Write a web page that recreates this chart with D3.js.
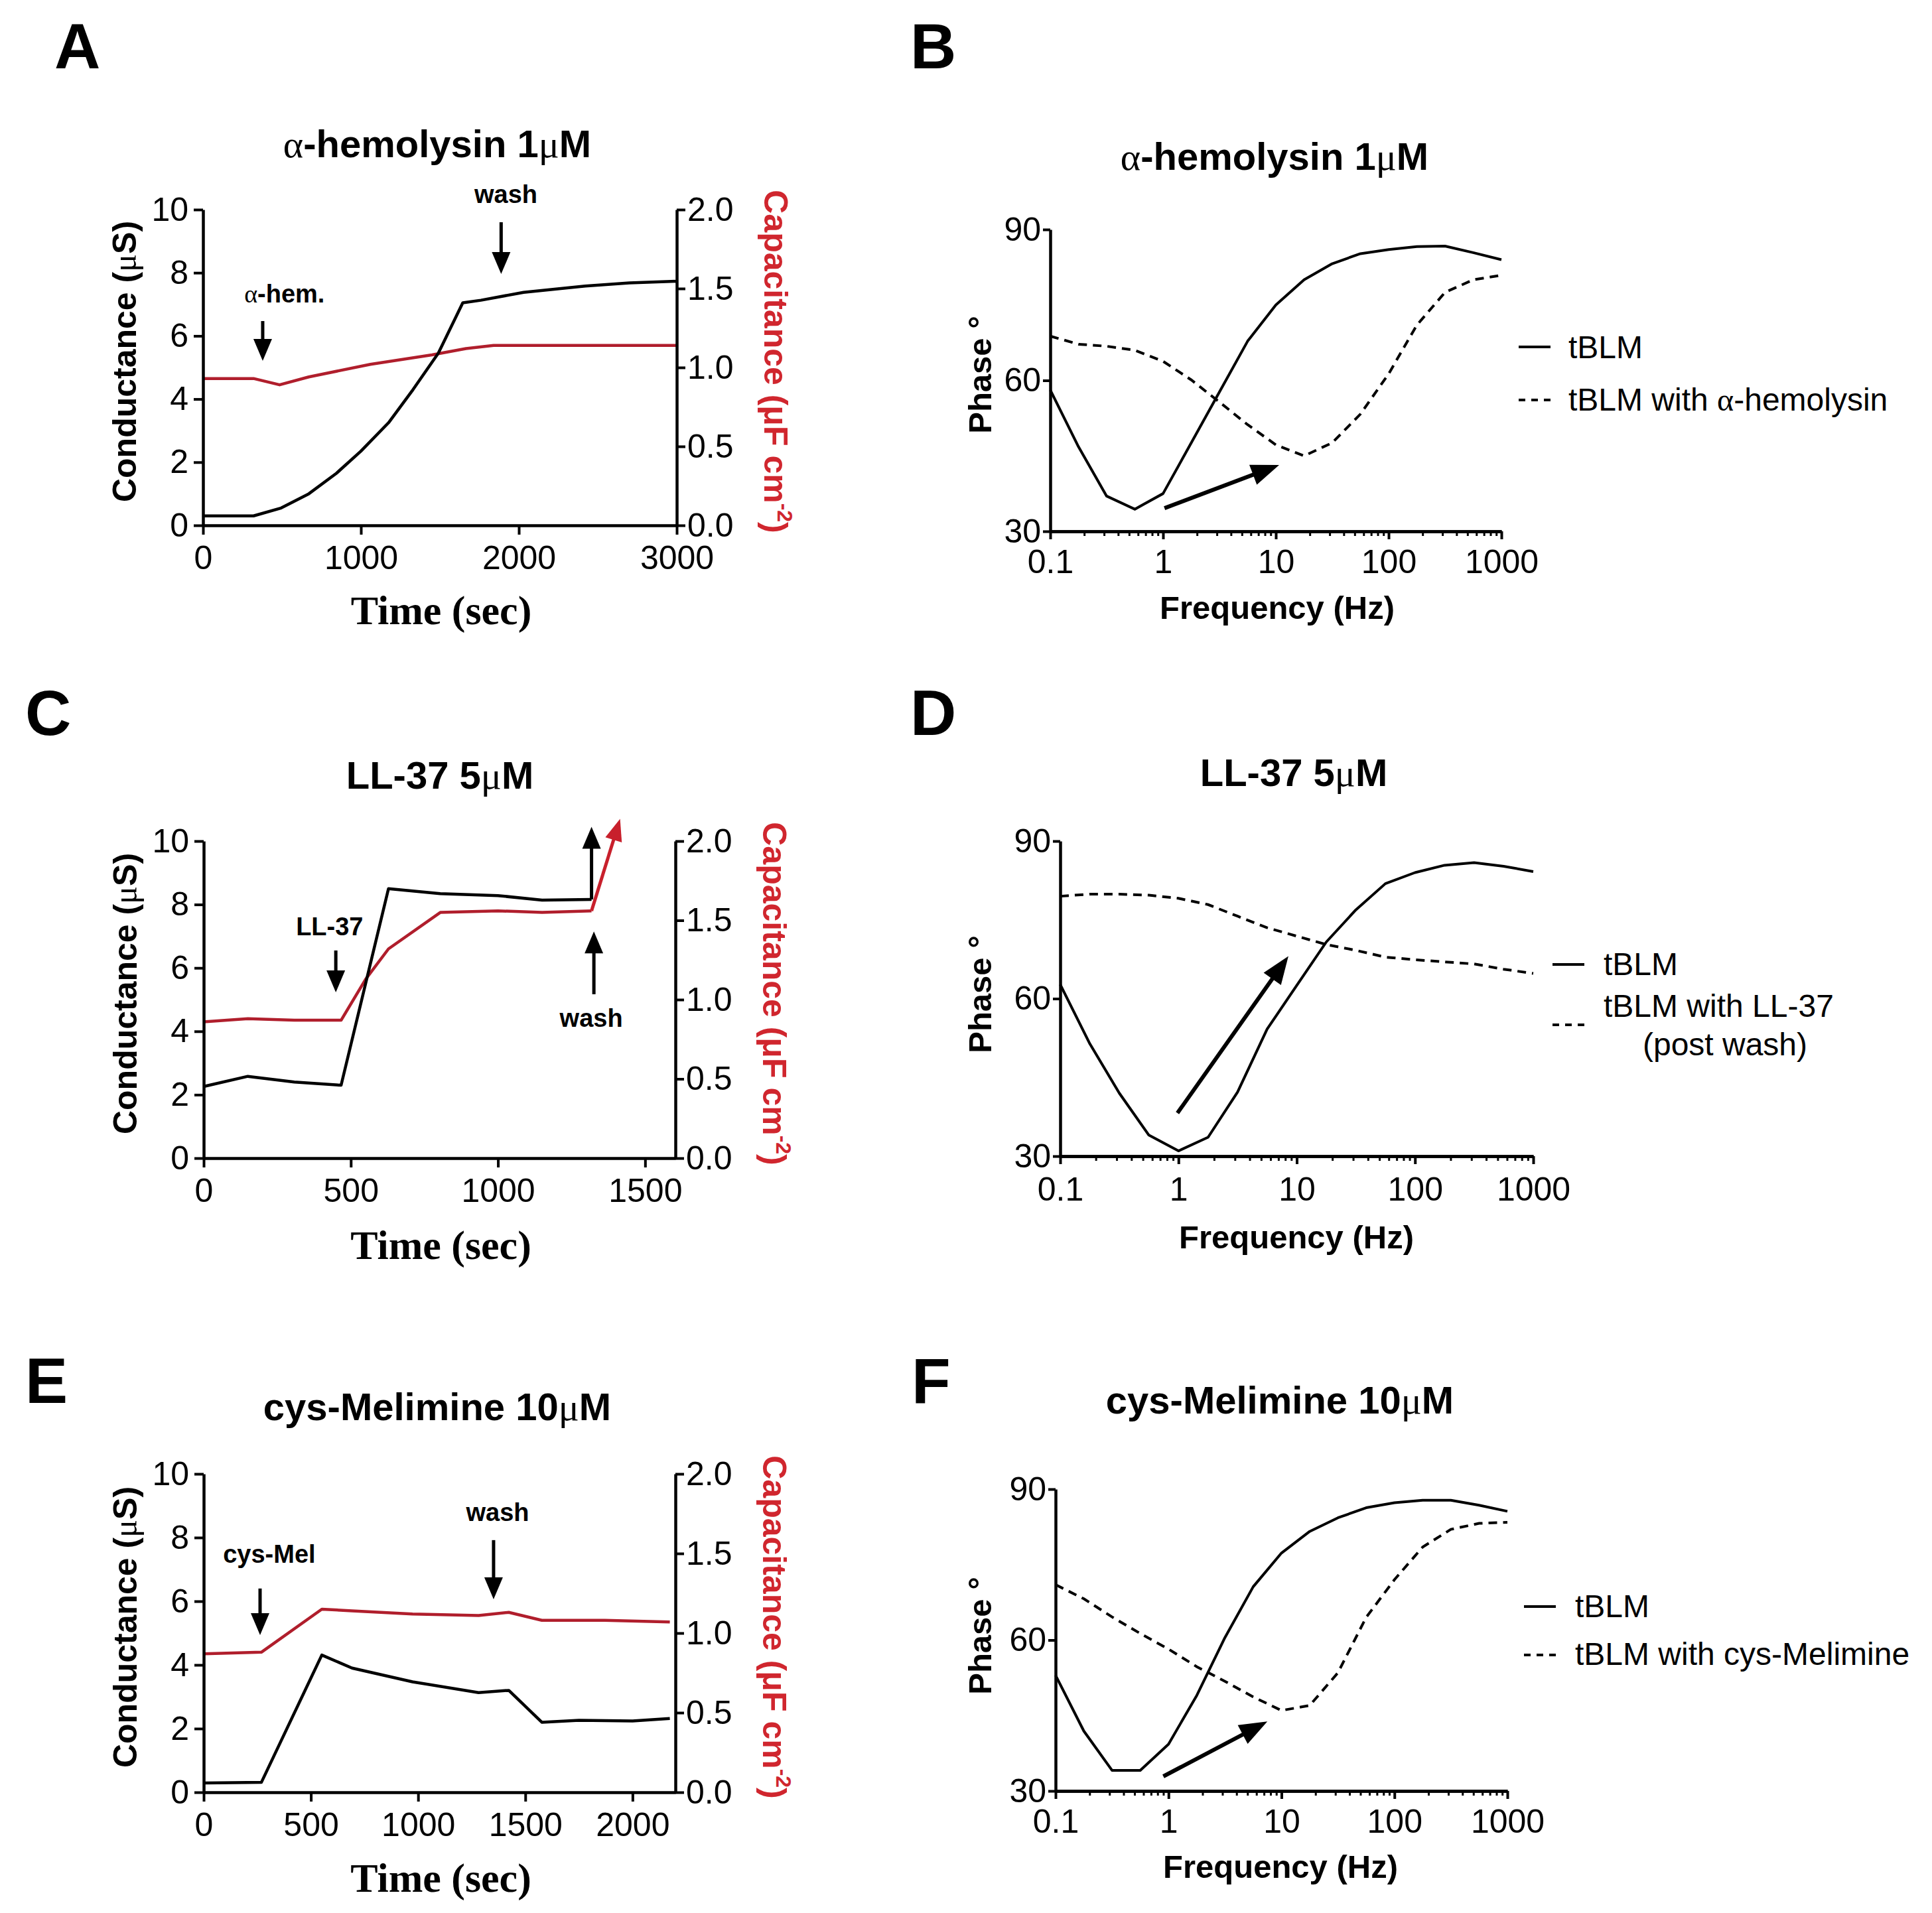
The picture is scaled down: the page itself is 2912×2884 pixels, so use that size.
<!DOCTYPE html>
<html><head><meta charset="utf-8">
<script src="https://cdn.jsdelivr.net/npm/d3@7"></script>
<style>body{margin:0;background:#fff}</style>
</head><body>
<svg id="c" width="2912" height="2884"></svg>
<script>
// ---------------- DATA ----------------
// Panel A : alpha-hemolysin 1uM (time course)
const timeA_G = [0, 320, 495, 670, 845, 1000, 1175, 1330, 1490, 1645, 1760, 2030, 2420, 2700, 3000];
const condA   = [0.3, 0.3, 0.55, 1.0, 1.65, 2.35, 3.25, 4.3, 5.45, 7.05, 7.13, 7.38, 7.58, 7.68, 7.73];
const timeA_C = [0, 320, 485, 670, 1060, 1450, 1665, 1840, 3000];
const capA    = [0.93, 0.93, 0.89, 0.94, 1.02, 1.08, 1.12, 1.14, 1.14];
const timeTicksA = [0, 1000, 2000, 3000];

// Panel C : LL-37 5uM (time course)
const timeC_G = [0, 150, 308, 467, 628, 804, 1000, 1150, 1318];
const condC   = [2.26, 2.58, 2.4, 2.3, 8.5, 8.34, 8.28, 8.14, 8.16];
const timeC_C = [0, 150, 308, 467, 551, 628, 804, 1000, 1150, 1318];
const capC    = [0.86, 0.88, 0.87, 0.87, 1.13, 1.32, 1.55, 1.56, 1.55, 1.56];
const timeTicksC = [0, 500, 1000, 1500];

// Panel E : cys-Melimine 10uM (time course)
const timeE_G = [0, 269, 551, 692, 974, 1282, 1423, 1577, 1750, 2000, 2174];
const condE   = [0.29, 0.31, 4.31, 3.9, 3.47, 3.13, 3.2, 2.2, 2.26, 2.24, 2.32];
const timeE_C = [0, 269, 551, 692, 974, 1282, 1423, 1577, 1870, 2174];
const capE    = [0.87, 0.88, 1.15, 1.14, 1.12, 1.11, 1.13, 1.08, 1.08, 1.07];
const timeTicksE = [0, 500, 1000, 1500, 2000];

const condTicks = [0, 2, 4, 6, 8, 10];
const capTicks  = [0, 0.5, 1.0, 1.5, 2.0];

// Bode phase panels
const freq = [0.1, 0.178, 0.316, 0.562, 1, 1.78, 3.16, 5.62, 10, 17.8, 31.6, 56.2, 100, 178, 316, 562, 1000];
const phaseB_tBLM = [58.1, 46.8, 37, 34.4, 37.5, 47.6, 57.7, 67.8, 75, 80, 83.2, 85.2, 86, 86.6, 86.7, 85.4, 84];
const phaseB_with = [68.8, 67.2, 66.8, 66, 63.8, 60.1, 55.7, 51.2, 47.2, 45, 47.6, 53.3, 61.3, 71, 77.5, 80, 80.9];
const phaseD_tBLM = [62.7, 51.4, 42, 34, 31, 33.6, 42.2, 54.2, 62.5, 70.8, 76.9, 81.9, 84, 85.4, 85.9, 85.2, 84.2];
const phaseD_with = [79.5, 79.9, 79.9, 79.7, 79.1, 77.9, 75.7, 73.5, 71.9, 70.3, 69.2, 67.9, 67.4, 67, 66.6, 65.6, 64.8];
const phaseF_tBLM = [53, 41.9, 34.1, 34.1, 39.3, 49, 60.5, 70.6, 77.3, 81.6, 84.3, 86.3, 87.3, 87.8, 87.8, 86.8, 85.6];
const phaseF_with = [71, 68.2, 64.6, 61.3, 58.2, 54.7, 51.8, 48.7, 46, 47, 53.5, 64.5, 72, 78.5, 82, 83.2, 83.4];
const freqTicks = [0.1, 1, 10, 100, 1000];
const freqTickLabels = ['0.1', '1', '10', '100', '1000'];
const phaseTicks = [30, 60, 90];

const titles = ['α-hemolysin 1μM', 'α-hemolysin 1μM', 'LL-37 5μM', 'LL-37 5μM', 'cys-Melimine 10μM', 'cys-Melimine 10μM'];
const panelLetters = ['A', 'B', 'C', 'D', 'E', 'F'];
const legendB = ['tBLM', 'tBLM with α-hemolysin'];
const legendD = ['tBLM', 'tBLM with LL-37', '(post wash)'];
const legendF = ['tBLM', 'tBLM with cys-Melimine'];

// ---------------- DRAWING ----------------
const SANS = '"Liberation Sans", Arial, Helvetica, sans-serif';
const SERIF = '"Liberation Serif", "Times New Roman", serif';
const RED = '#b01e2c', RED_TXT = '#d0262e';
const svg = d3.select('#c');
svg.append('rect').attr('width', 2912).attr('height', 2884).attr('fill', '#fff');

// Greek letters (α, μ) in a serif, non-bold face like the original's Symbol font
function rich(sel, str) {
  str.split(/([αμ])/).forEach(part => {
    if (!part) return;
    const t = sel.append('tspan').text(part);
    if (part === 'α' || part === 'μ') t.attr('font-family', SERIF).attr('font-weight', 'normal');
  });
  return sel;
}

function styleAxis(g, fs) {
  g.selectAll('path.domain').attr('stroke', '#000').attr('stroke-width', 4.5);
  g.selectAll('.tick line').attr('stroke', '#000').attr('stroke-width', 4);
  g.selectAll('.tick text').attr('fill', '#000').attr('font-family', SANS).attr('font-size', fs || 50);
}

function arrow(g, x0, y0, x1, y1, opt) {
  const o = Object.assign({w: 28, len: 33, sw: 5, color: '#000'}, opt || {});
  const dx = x1 - x0, dy = y1 - y0, L = Math.hypot(dx, dy), ux = dx / L, uy = dy / L;
  const bx = x1 - ux * o.len, by = y1 - uy * o.len;
  g.append('line').attr('x1', x0).attr('y1', y0).attr('x2', bx + ux * 3).attr('y2', by + uy * 3)
    .attr('stroke', o.color).attr('stroke-width', o.sw);
  g.append('path').attr('d', `M${x1},${y1}L${bx - uy * o.w / 2},${by + ux * o.w / 2}L${bx + uy * o.w / 2},${by - ux * o.w / 2}Z`)
    .attr('fill', o.color);
}

function letter(txt, x, y) {
  svg.append('text').attr('x', x).attr('y', y).attr('font-family', SANS).attr('font-weight', 'bold')
    .attr('font-size', 96).attr('fill', '#000').text(txt);
}
function title(txt, x, y) {
  rich(svg.append('text').attr('x', x).attr('y', y).attr('text-anchor', 'middle').attr('font-family', SANS)
    .attr('font-weight', 'bold').attr('font-size', 58).attr('fill', '#000'), txt);
}

function timePanel(p) {
  const g = svg.append('g');
  const x = d3.scaleLinear().domain([0, p.xMax]).range([p.left, p.right]);
  const yL = d3.scaleLinear().domain([0, 10]).range([p.bottom, p.top]);
  const yR = d3.scaleLinear().domain([0, 2]).range([p.bottom, p.top]);

  const line = (xs, ys, sy) => d3.line().x((d, i) => x(xs[i])).y((d, i) => sy(ys[i]))(xs);
  g.append('path').attr('d', line(p.tC, p.cap, yR)).attr('fill', 'none').attr('stroke', RED)
    .attr('stroke-width', 4.5).attr('stroke-linejoin', 'round');
  g.append('path').attr('d', line(p.tG, p.cond, yL)).attr('fill', 'none').attr('stroke', '#000')
    .attr('stroke-width', 4.5).attr('stroke-linejoin', 'round');

  const ax = g.append('g').attr('transform', `translate(0,${p.bottom})`)
    .call(d3.axisBottom(x).tickValues(p.xTicks).tickSize(14).tickSizeOuter(0).tickPadding(16).tickFormat(d3.format('d')));
  styleAxis(ax);
  const ayl = g.append('g').attr('transform', `translate(${p.left},0)`)
    .call(d3.axisLeft(yL).tickValues(condTicks).tickSize(14).tickSizeOuter(0).tickPadding(8).tickFormat(d3.format('d')));
  styleAxis(ayl);
  const ayr = g.append('g').attr('transform', `translate(${p.right},0)`)
    .call(d3.axisRight(yR).tickValues(capTicks).tickSize(13).tickSizeOuter(0).tickPadding(3).tickFormat(d3.format('.1f')));
  styleAxis(ayr);

  g.append('text').attr('transform', `translate(${(p.left + p.right) / 2 + 2},${p.xLabelY})`).attr('text-anchor', 'middle')
    .attr('font-family', SERIF).attr('font-weight', 'bold').attr('font-size', 62).attr('fill', '#000').text('Time (sec)');
  rich(g.append('text').attr('transform', `translate(${p.left - 101},${p.midY}) rotate(-90)`).attr('text-anchor', 'middle')
    .attr('font-family', SANS).attr('font-weight', 'bold').attr('font-size', 50).attr('fill', '#000'), 'Conductance (μS)');
  const rt = g.append('text').attr('transform', `translate(${p.right + 132},${p.midY}) rotate(90)`).attr('text-anchor', 'middle')
    .attr('font-family', SANS).attr('font-weight', 'bold').attr('font-size', 50).attr('fill', RED_TXT);
  rt.append('tspan').text('Capacitance (μF cm');
  rt.append('tspan').attr('font-size', 32).attr('dy', -20).text('-2');
  rt.append('tspan').attr('dy', 20).text(')');

  p.notes.forEach(n => {
    if (n.label) {
      rich(g.append('text').attr('x', x(n.lx)).attr('y', yL(n.ly)).attr('text-anchor', 'middle')
        .attr('font-family', SANS).attr('font-weight', 'bold').attr('font-size', 38).attr('fill', '#000'), n.label);
    }
    const sy = n.axis === 'R' ? yR : yL;
    arrow(g, x(n.x0), sy(n.y0), x(n.x1), sy(n.y1), n.opt);
  });
}

function phasePanel(p) {
  const g = svg.append('g');
  const x = d3.scaleLog().domain([0.1, 1000]).range([p.left, p.right]);
  const y = d3.scaleLinear().domain([30, 90]).range([p.bottom, p.top]);

  const line = ys => d3.line().x((d, i) => x(freq[i])).y((d, i) => y(ys[i]))(freq);
  g.append('path').attr('d', line(p.solid)).attr('fill', 'none').attr('stroke', '#000').attr('stroke-width', 4)
    .attr('stroke-linejoin', 'round');
  g.append('path').attr('d', line(p.dashed)).attr('fill', 'none').attr('stroke', '#000').attr('stroke-width', 4)
    .attr('stroke-dasharray', '13,9');

  const minor = x.ticks().filter(v => Math.abs(Math.log10(v) - Math.round(Math.log10(v))) > 1e-6);
  const am = g.append('g').attr('transform', `translate(0,${p.bottom})`)
    .call(d3.axisBottom(x).tickValues(minor).tickSize(7).tickSizeOuter(0).tickFormat(''));
  styleAxis(am);
  am.selectAll('.tick line').attr('stroke-width', 3);
  const ax = g.append('g').attr('transform', `translate(0,${p.bottom})`)
    .call(d3.axisBottom(x).tickValues(freqTicks).tickSize(12).tickSizeOuter(0).tickPadding(p.xPad)
      .tickFormat((d, i) => freqTickLabels[i]));
  styleAxis(ax);
  const ay = g.append('g').attr('transform', `translate(${p.left},0)`)
    .call(d3.axisLeft(y).tickValues(phaseTicks).tickSize(11).tickSizeOuter(0).tickPadding(3).tickFormat(d3.format('d')));
  styleAxis(ay);

  g.append('text').attr('x', p.xLabelX).attr('y', p.xLabelY).attr('text-anchor', 'middle')
    .attr('font-family', SANS).attr('font-weight', 'bold').attr('font-size', 49).attr('fill', '#000').text('Frequency (Hz)');
  g.append('text').attr('transform', `translate(1494,${p.yLabelY}) rotate(-90)`).attr('text-anchor', 'middle')
    .attr('font-family', SANS).attr('font-weight', 'bold').attr('font-size', 49).attr('fill', '#000').text('Phase °');

  arrow(g, x(p.arrow[0]), y(p.arrow[1]), x(p.arrow[2]), y(p.arrow[3]), {w: 32, len: 42, sw: 6});

  const L = p.legend;
  g.append('line').attr('x1', L.x).attr('x2', L.x + 48).attr('y1', L.y1).attr('y2', L.y1)
    .attr('stroke', '#000').attr('stroke-width', 4);
  g.append('line').attr('x1', L.x).attr('x2', L.x + 48).attr('y1', L.y2).attr('y2', L.y2)
    .attr('stroke', '#000').attr('stroke-width', 4).attr('stroke-dasharray', '10,9');
  L.items.forEach(it => {
    rich(g.append('text').attr('x', it.x).attr('y', it.y).attr('text-anchor', it.anchor || 'start')
      .attr('font-family', SANS).attr('font-size', 48).attr('fill', '#000'), it.t);
  });
}

letter(panelLetters[0], 82, 103);
letter(panelLetters[1], 1372, 103);
letter(panelLetters[2], 38, 1108);
letter(panelLetters[3], 1372, 1108);
letter(panelLetters[4], 38, 2115);
letter(panelLetters[5], 1374, 2115);
title(titles[0], 659, 237);
title(titles[1], 1921, 256);
title(titles[2], 663, 1189);
title(titles[3], 1950, 1185);
title(titles[4], 659, 2141);
title(titles[5], 1929, 2131);

timePanel({
  left: 306, right: 1020, top: 316, bottom: 792, xMax: 3000, xTicks: timeTicksA,
  tG: timeA_G, cond: condA, tC: timeA_C, cap: capA, xLabelY: 941, midY: 545,
  notes: [
    {label: 'α-hem.', lx: 516, ly: 7.06, x0: 378, y0: 6.47, x1: 378, y1: 5.21},
    {label: 'wash', lx: 1918, ly: 10.2, x0: 1888, y0: 9.6, x1: 1888, y1: 7.96}
  ]
});
timePanel({
  left: 307, right: 1018, top: 1268, bottom: 1746, xMax: 1603, xTicks: timeTicksC,
  tG: timeC_G, cond: condC, tC: timeC_C, cap: capC, xLabelY: 1898, midY: 1498,
  notes: [
    {label: 'LL-37', lx: 428, ly: 7.03, x0: 449, y0: 6.55, x1: 449, y1: 5.23},
    {label: 'wash', lx: 1317, ly: 4.14, x0: 1326, y0: 5.17, x1: 1326, y1: 7.15},
    {x0: 1318, y0: 8.16, x1: 1318, y1: 10.45},
    {axis: 'R', x0: 1318, y0: 1.56, x1: 1415, y1: 2.14, opt: {color: '#c8202c', w: 26}}
  ]
});
timePanel({
  left: 307, right: 1018, top: 2222, bottom: 2702, xMax: 2200, xTicks: timeTicksE,
  tG: timeE_G, cond: condE, tC: timeE_C, cap: capE, xLabelY: 2852, midY: 2453,
  notes: [
    {label: 'cys-Mel', lx: 306, ly: 7.2, x0: 263, y0: 6.4, x1: 263, y1: 4.94},
    {label: 'wash', lx: 1371, ly: 8.52, x0: 1352, y0: 7.92, x1: 1352, y1: 6.06}
  ]
});

phasePanel({
  left: 1583, right: 2263, top: 346, bottom: 801, solid: phaseB_tBLM, dashed: phaseB_with, xPad: 15,
  xLabelX: 1925, xLabelY: 933, yLabelY: 565, arrow: [1.03, 34.6, 10.7, 43.2],
  legend: {x: 2289, y1: 523, y2: 603, items: [{t: legendB[0], x: 2364, y: 540}, {t: legendB[1], x: 2364, y: 619}]}
});
phasePanel({
  left: 1598, right: 2311, top: 1268, bottom: 1743, solid: phaseD_tBLM, dashed: phaseD_with, xPad: 19,
  xLabelX: 1954, xLabelY: 1882, yLabelY: 1499, arrow: [0.98, 38.2, 8.5, 68.1],
  legend: {x: 2340, y1: 1454, y2: 1545, items: [{t: legendD[0], x: 2417, y: 1470}, {t: legendD[1], x: 2417, y: 1533},
    {t: legendD[2], x: 2600, y: 1591, anchor: 'middle'}]}
});
phasePanel({
  left: 1591, right: 2272, top: 2245, bottom: 2700, solid: phaseF_tBLM, dashed: phaseF_with, xPad: 15,
  xLabelX: 1930, xLabelY: 2831, yLabelY: 2466, arrow: [0.9, 32.9, 7.5, 43.8],
  legend: {x: 2297, y1: 2422, y2: 2495, items: [{t: legendF[0], x: 2374, y: 2438}, {t: legendF[1], x: 2374, y: 2510}]}
});
</script>
</body></html>
